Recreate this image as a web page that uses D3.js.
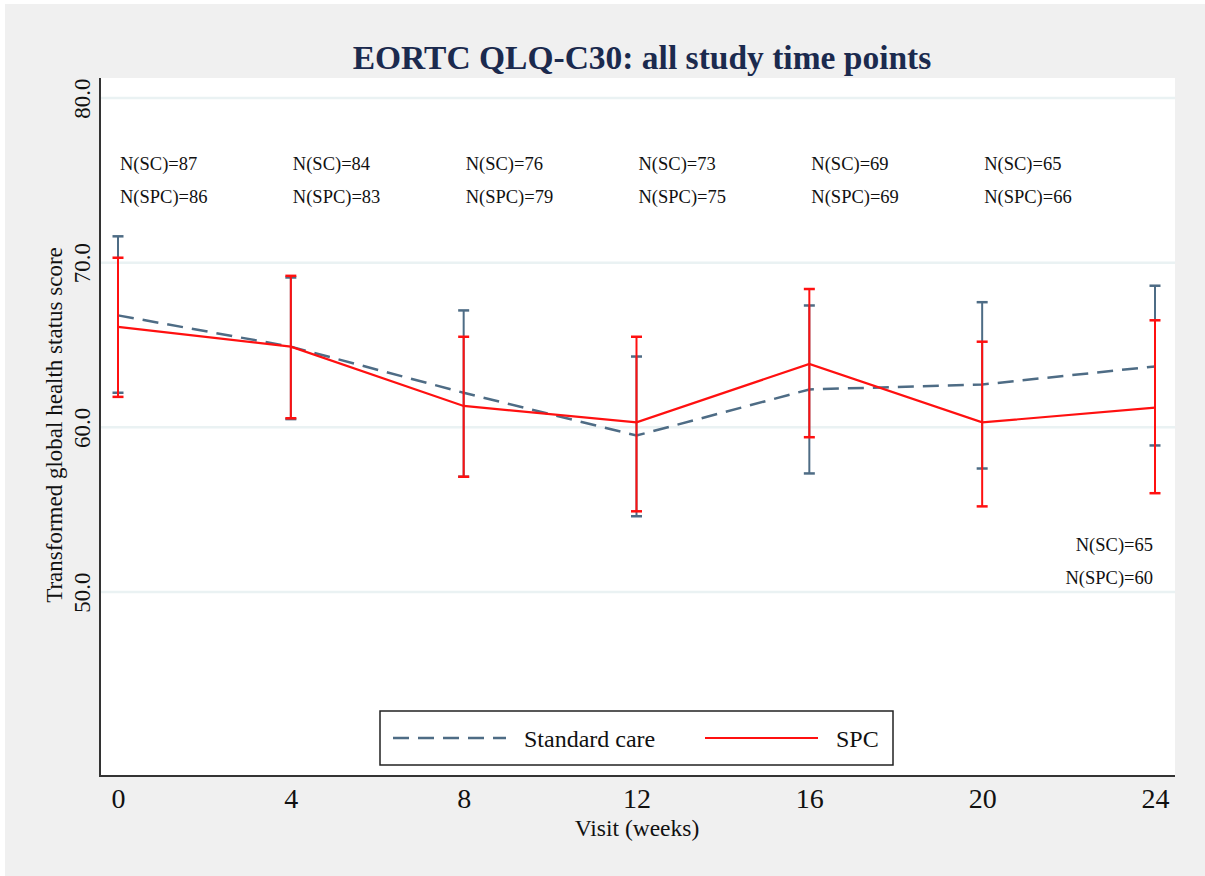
<!DOCTYPE html>
<html>
<head>
<meta charset="utf-8">
<script src="https://cdn.jsdelivr.net/npm/d3@7"></script>
<style>
  body { margin: 0; background: #fff; }
  text { font-family: "Liberation Serif", "Times New Roman", serif; }
</style>
</head>
<body>
<svg id="chart" width="1205" height="876"></svg>
<script>
// data
var weeks = [0, 4, 8, 12, 16, 20, 24];
var scMean = [66.8, 64.9, 62.1, 59.5, 62.3, 62.6, 63.7];
var scLow  = [62.1, 60.5, 57.0, 54.6, 57.2, 57.5, 58.9];
var scHigh = [71.6, 69.1, 67.1, 64.3, 67.4, 67.6, 68.6];
var spcMean = [66.1, 64.9, 61.3, 60.3, 63.85, 60.3, 61.2];
var spcLow  = [61.85, 60.55, 57.0, 54.9, 59.4, 55.2, 56.0];
var spcHigh = [70.3, 69.2, 65.5, 65.5, 68.4, 65.2, 66.5];
var nSC  = [87, 84, 76, 73, 69, 65, 65];
var nSPC = [86, 83, 79, 75, 69, 66, 60];
var yTicks = [50, 60, 70, 80];

var svg = d3.select('#chart');
var scColor = '#4e6c85', spcColor = '#ff1010';

// outer gray background
svg.append('rect')
  .attr('x', 5).attr('y', 4)
  .attr('width', 1200).attr('height', 872)
  .attr('fill', '#f0f0f0');

// plot region
var plotLeft = 100, plotRight = 1175, plotTop = 78, plotBottom = 776;
svg.append('rect')
  .attr('x', plotLeft).attr('y', plotTop)
  .attr('width', plotRight - plotLeft).attr('height', plotBottom - plotTop)
  .attr('fill', '#ffffff');

var x = d3.scaleLinear().domain([0, 24]).range([118, 1155]);
var y = d3.scaleLinear().domain([50, 80]).range([592, 98]);

// grid lines
svg.append('g')
  .selectAll('line')
  .data(yTicks)
  .join('line')
    .attr('x1', plotLeft).attr('x2', plotRight)
    .attr('y1', function (d) { return y(d); })
    .attr('y2', function (d) { return y(d); })
    .attr('stroke', '#eaf2f3')
    .attr('stroke-width', 2.5);

// y axis
var yAxis = svg.append('g')
  .attr('transform', 'translate(' + plotLeft + ',0)')
  .call(d3.axisLeft(y).tickValues(yTicks).tickFormat(d3.format('.1f')).tickSize(0));
yAxis.select('.domain').remove();
yAxis.selectAll('text')
  .attr('font-size', 23)
  .attr('fill', '#111')
  .attr('x', null).attr('dy', 0)
  .attr('text-anchor', 'middle')
  .attr('transform', 'translate(-10,0) rotate(-90)');
svg.append('line')
  .attr('x1', plotLeft).attr('x2', plotLeft)
  .attr('y1', plotTop).attr('y2', plotBottom + 1)
  .attr('stroke', '#333').attr('stroke-width', 2);

// x axis
var xAxis = svg.append('g')
  .attr('transform', 'translate(0,' + plotBottom + ')')
  .call(d3.axisBottom(x).tickValues(weeks).tickSize(0).tickPadding(12));
xAxis.select('.domain').remove();
xAxis.selectAll('text')
  .attr('font-size', 28)
  .attr('fill', '#111');
svg.append('line')
  .attr('x1', plotLeft - 1).attr('x2', plotRight)
  .attr('y1', plotBottom).attr('y2', plotBottom)
  .attr('stroke', '#333').attr('stroke-width', 2);

// axis titles
svg.append('text')
  .attr('x', 637).attr('y', 836)
  .attr('text-anchor', 'middle')
  .attr('font-size', 23.5)
  .attr('fill', '#111')
  .text('Visit (weeks)');
svg.append('text')
  .attr('transform', 'translate(62,425) rotate(-90)')
  .attr('text-anchor', 'middle')
  .attr('font-size', 23)
  .attr('fill', '#111')
  .text('Transformed global health status score');

// title
svg.append('text')
  .attr('x', 642).attr('y', 69)
  .attr('text-anchor', 'middle')
  .attr('font-size', 33.5)
  .attr('font-weight', 'bold')
  .attr('fill', '#1b2a4e')
  .text('EORTC QLQ-C30: all study time points');

function drawSeries(mean, low, high, color, dash, width) {
  var g = svg.append('g');
  var line = d3.line()
    .x(function (d, i) { return x(weeks[i]); })
    .y(function (d) { return y(d); });
  g.append('path')
    .datum(mean)
    .attr('d', line)
    .attr('fill', 'none')
    .attr('stroke', color)
    .attr('stroke-width', width)
    .attr('stroke-dasharray', dash);
  var bars = g.selectAll('g.bar')
    .data(weeks)
    .join('g');
  bars.append('line')
    .attr('x1', function (d) { return x(d); })
    .attr('x2', function (d) { return x(d); })
    .attr('y1', function (d, i) { return y(low[i]); })
    .attr('y2', function (d, i) { return y(high[i]); })
    .attr('stroke', color).attr('stroke-width', 2);
  [low, high].forEach(function (arr) {
    bars.append('line')
      .attr('x1', function (d) { return x(d) - 5.5; })
      .attr('x2', function (d) { return x(d) + 5.5; })
      .attr('y1', function (d, i) { return y(arr[i]); })
      .attr('y2', function (d, i) { return y(arr[i]); })
      .attr('stroke', color).attr('stroke-width', 2.5);
  });
}

drawSeries(scMean, scLow, scHigh, scColor, '16,9', 2.5);
drawSeries(spcMean, spcLow, spcHigh, spcColor, null, 2.2);

// N labels: weeks 0-20 at the top, week 24 bottom right
var labels = svg.append('g').attr('font-size', 18.5).attr('fill', '#111');
weeks.forEach(function (w, i) {
  var atTop = i < weeks.length - 1;
  labels.append('text')
    .attr('x', atTop ? x(w) + 2 : x(w) - 2)
    .attr('y', y(atTop ? 76 : 52.9))
    .attr('dy', '0.35em')
    .attr('text-anchor', atTop ? 'start' : 'end')
    .text('N(SC)=' + nSC[i]);
  labels.append('text')
    .attr('x', atTop ? x(w) + 2 : x(w) - 2)
    .attr('y', y(atTop ? 74 : 50.9))
    .attr('dy', '0.35em')
    .attr('text-anchor', atTop ? 'start' : 'end')
    .text('N(SPC)=' + nSPC[i]);
});

// legend
var legend = svg.append('g');
legend.append('rect')
  .attr('x', 380).attr('y', 711)
  .attr('width', 513).attr('height', 54)
  .attr('fill', '#fff')
  .attr('stroke', '#222').attr('stroke-width', 1.5);
legend.append('line')
  .attr('x1', 393).attr('x2', 506).attr('y1', 738).attr('y2', 738)
  .attr('stroke', scColor).attr('stroke-width', 2.5)
  .attr('stroke-dasharray', '16,9');
legend.append('text')
  .attr('x', 524).attr('y', 739).attr('dy', '0.35em')
  .attr('font-size', 24).attr('fill', '#111')
  .text('Standard care');
legend.append('line')
  .attr('x1', 705).attr('x2', 818).attr('y1', 738).attr('y2', 738)
  .attr('stroke', spcColor).attr('stroke-width', 2.2);
legend.append('text')
  .attr('x', 836).attr('y', 739).attr('dy', '0.35em')
  .attr('font-size', 24).attr('fill', '#111')
  .text('SPC');
</script>
</body>
</html>
